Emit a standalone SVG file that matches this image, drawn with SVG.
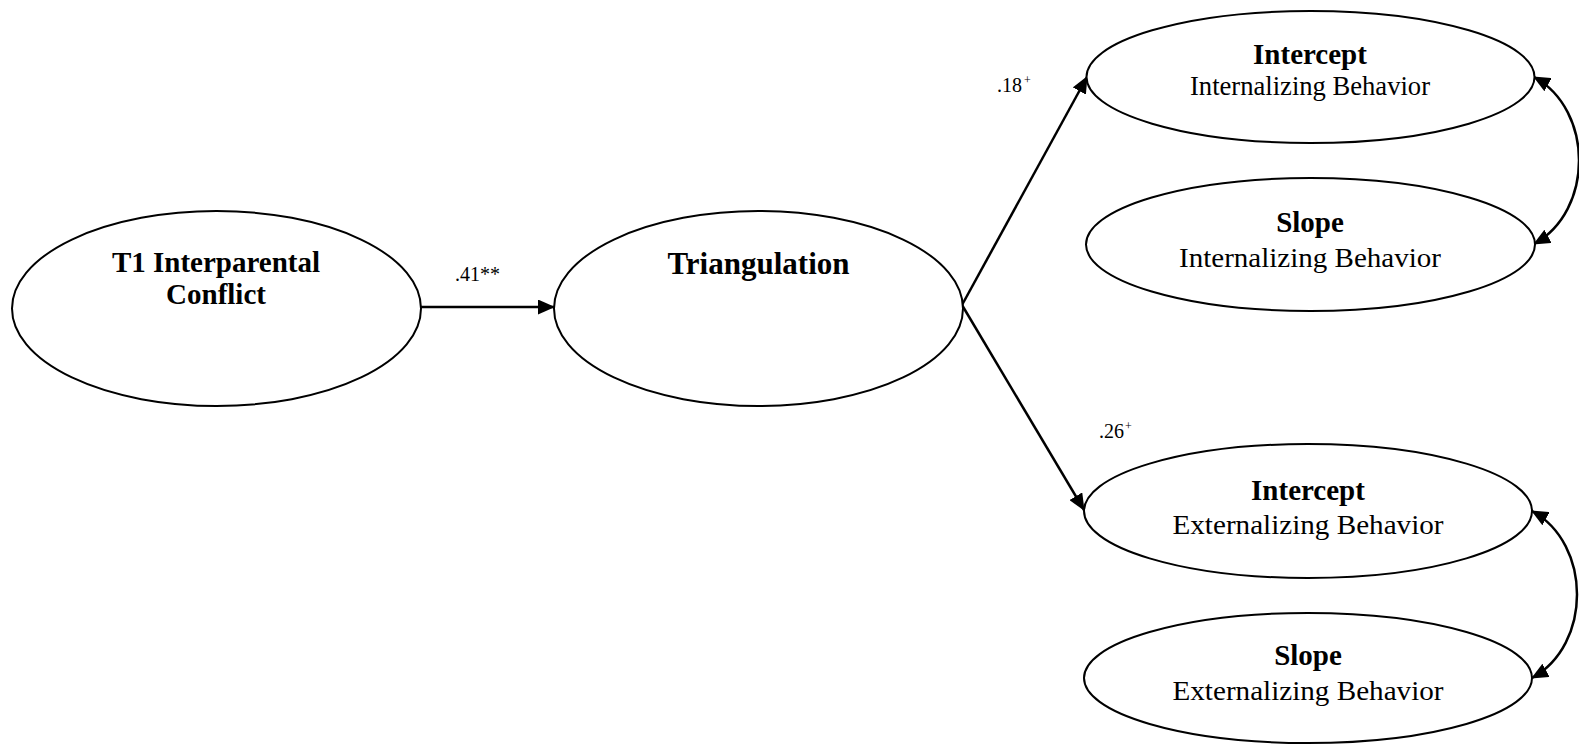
<svg xmlns="http://www.w3.org/2000/svg" width="1579" height="744" viewBox="0 0 1579 744">
<defs>
<marker id="arr" viewBox="0 0 17 15" refX="16" refY="7.5" markerUnits="userSpaceOnUse" markerWidth="17" markerHeight="15" orient="auto-start-reverse">
<path d="M0,0 L17,7.5 L0,15 z" fill="#000"/>
</marker>
<style>
.node ellipse{fill:#fff;stroke:#000;stroke-width:2}
text{font-family:"Liberation Serif","Times New Roman",serif;fill:#000}
.b{font-weight:bold;font-size:29px;text-anchor:middle}
.r{font-size:27px;text-anchor:middle}
.lab{font-size:20px}
.sup{font-size:12px}
.conn path{fill:none;stroke:#000;stroke-width:2.5}
</style>
</defs>
<rect width="1579" height="744" fill="#fff"/>
<g class="conn" id="connectors">
<path d="M421 307 L554 307" marker-end="url(#arr)"/>
<path d="M962 305 L1087 77" marker-end="url(#arr)"/>
<path d="M962 305 L1084 510" marker-end="url(#arr)"/>
<path d="M1534 77 C1594 110 1594 211 1534 244" marker-start="url(#arr)" marker-end="url(#arr)"/>
<path d="M1532 511 C1592 544 1592 645 1532 678" marker-start="url(#arr)" marker-end="url(#arr)"/>
</g>
<g id="labels">
<text class="lab" x="455" y="281">.41**</text>
<text class="lab" x="997" y="92">.18</text><text class="sup" x="1024" y="84">+</text>
<text class="lab" x="1099" y="438">.26</text><text class="sup" x="1125" y="430">+</text>
</g>
<g class="node" id="n-conflict">
<ellipse cx="216.5" cy="308.5" rx="204.5" ry="97.5"/>
<text class="b" x="216" y="272">T1 Interparental</text>
<text class="b" x="216" y="304">Conflict</text>
</g>
<g class="node" id="n-triangulation">
<ellipse cx="758.5" cy="308.5" rx="204.5" ry="97.5"/>
<text class="b" x="758.5" y="274" style="font-size:31px">Triangulation</text>
</g>
<g class="node" id="n-int-intercept">
<ellipse cx="1310.5" cy="77" rx="224" ry="66"/>
<text class="b" x="1310" y="64">Intercept</text>
<text class="r" x="1310" y="95" textLength="240" lengthAdjust="spacingAndGlyphs">Internalizing Behavior</text>
</g>
<g class="node" id="n-int-slope">
<ellipse cx="1310.5" cy="244.5" rx="224.5" ry="66.5"/>
<text class="b" x="1310" y="232">Slope</text>
<text class="r" x="1310" y="267" textLength="262" lengthAdjust="spacingAndGlyphs">Internalizing Behavior</text>
</g>
<g class="node" id="n-ext-intercept">
<ellipse cx="1308" cy="511" rx="224" ry="67"/>
<text class="b" x="1308" y="500">Intercept</text>
<text class="r" x="1308" y="534" textLength="271" lengthAdjust="spacingAndGlyphs">Externalizing Behavior</text>
</g>
<g class="node" id="n-ext-slope">
<ellipse cx="1308" cy="678" rx="224" ry="65"/>
<text class="b" x="1308" y="665">Slope</text>
<text class="r" x="1308" y="700" textLength="271" lengthAdjust="spacingAndGlyphs">Externalizing Behavior</text>
</g>
</svg>
